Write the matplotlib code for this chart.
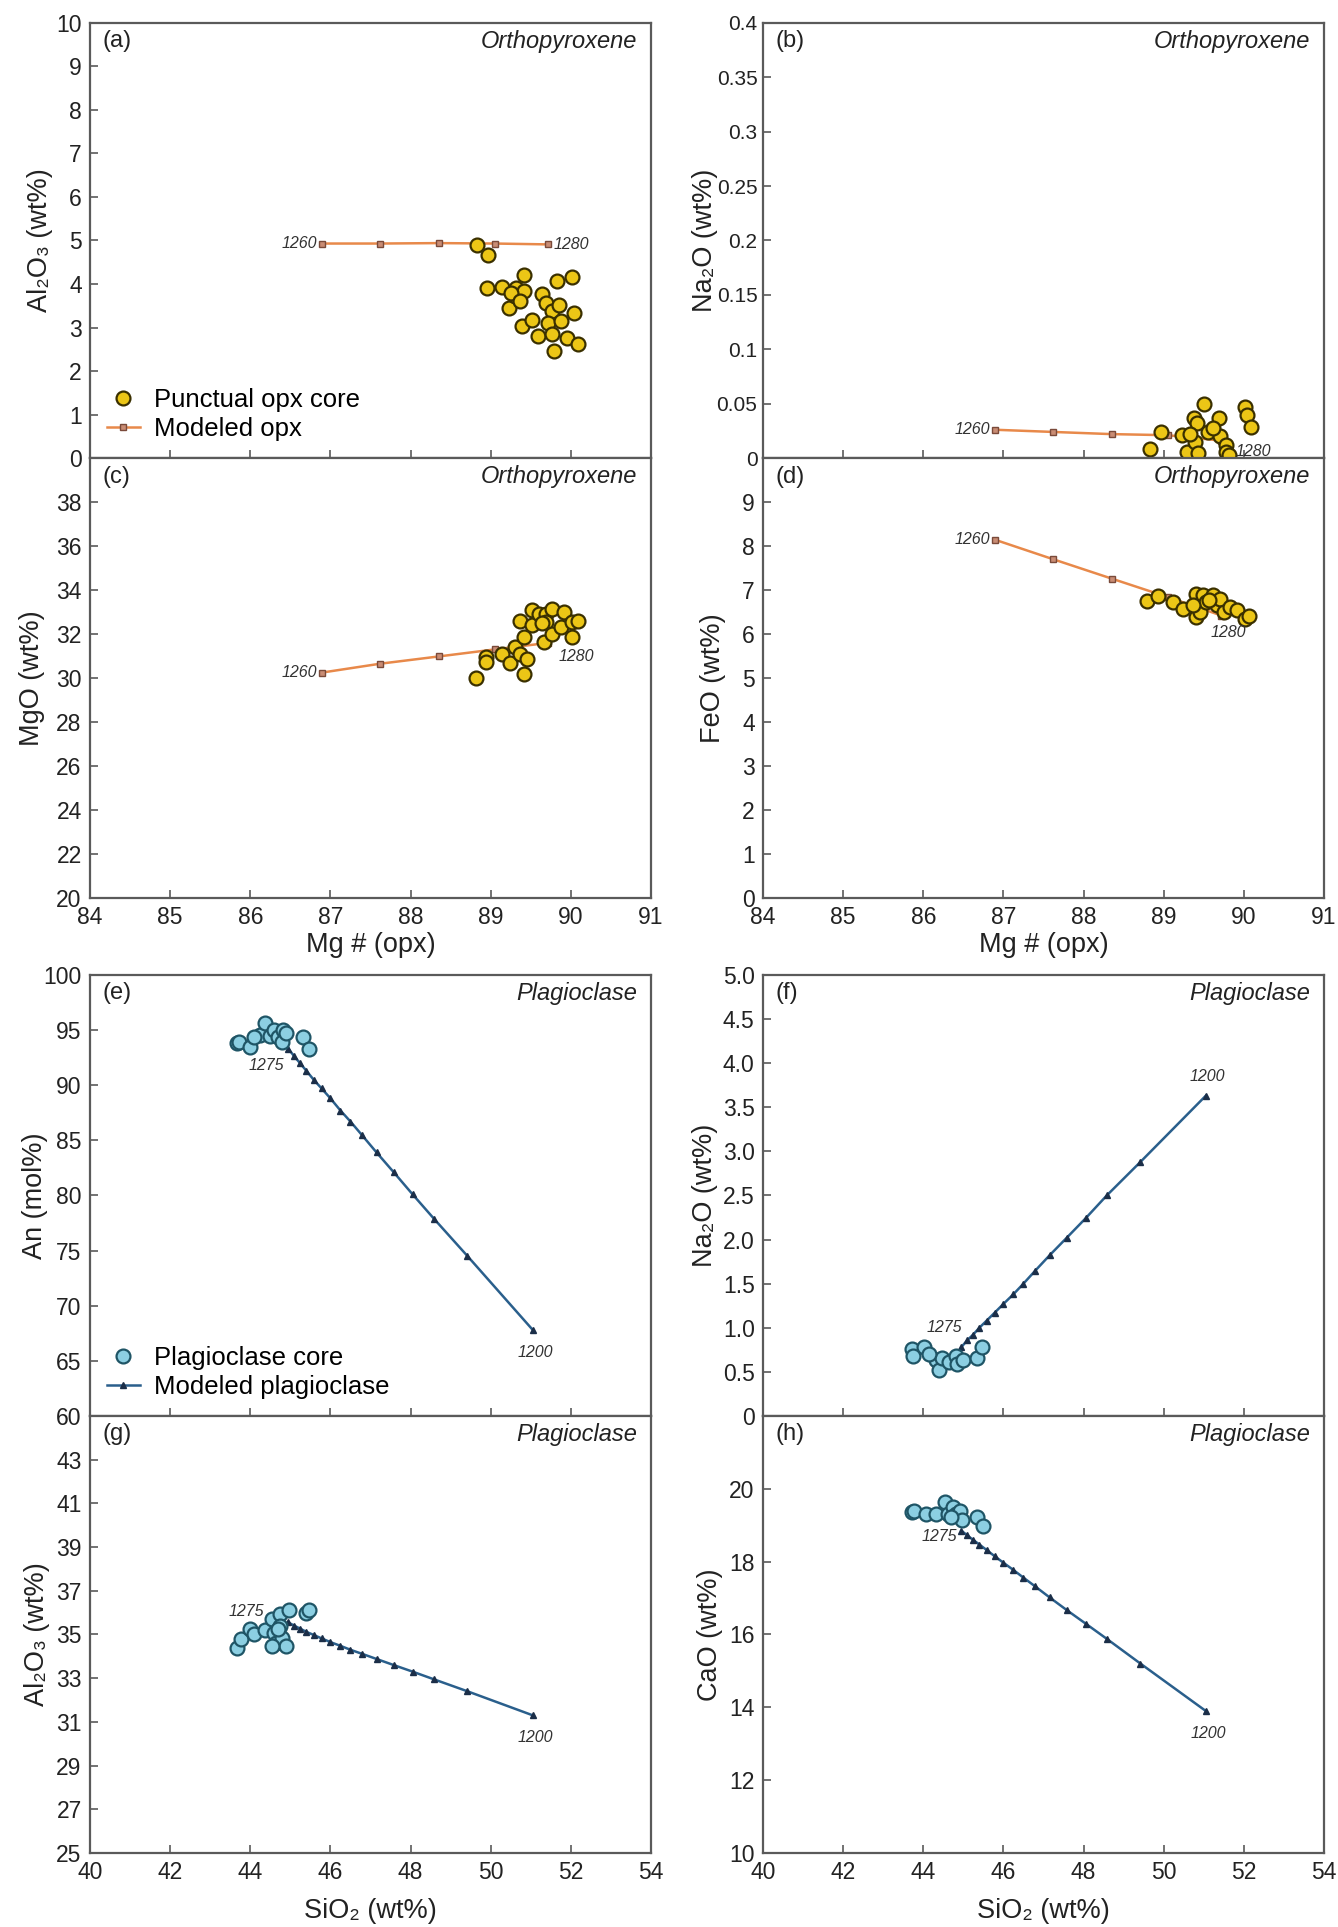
import matplotlib
matplotlib.use("Agg")
import matplotlib.pyplot as plt
from matplotlib.lines import Line2D

plt.rcParams['font.family'] = ['Liberation Sans', 'DejaVu Sans']

# ---- orthopyroxene: measured cores (one set of readings per panel) ----
opx_mg_a = [88.83, 88.96, 88.95, 89.14, 89.23, 89.30, 89.32, 89.42, 89.42, 89.39, 89.52, 89.59,
            89.64, 89.69, 89.77, 89.72, 89.77, 89.79, 89.83, 89.85, 89.88, 89.95, 90.01, 90.04,
            90.09, 89.25, 89.36]
opx_al = [4.90, 4.67, 3.91, 3.92, 3.45, 3.72, 3.91, 4.21, 3.83, 3.03, 3.18, 2.80,
          3.77, 3.56, 3.37, 3.10, 2.84, 2.45, 4.06, 3.52, 3.14, 2.76, 4.15, 3.33,
          2.61, 3.79, 3.60]

opx_mg_b = [88.83, 88.96, 89.23, 89.29, 89.38, 89.39, 89.42, 89.43, 89.50, 89.55, 89.69, 89.70,
            89.78, 89.78, 89.82, 90.01, 90.04, 90.09, 89.33, 89.62]
opx_na = [0.008, 0.024, 0.021, 0.006, 0.037, 0.015, 0.032, 0.005, 0.050, 0.024, 0.037, 0.020,
          0.012, 0.006, 0.003, 0.047, 0.040, 0.029, 0.022, 0.028]

opx_mg_c = [88.82, 88.94, 88.94, 89.14, 89.24, 89.30, 89.36, 89.41, 89.41, 89.45, 89.37, 89.51,
            89.51, 89.60, 89.67, 89.69, 89.69, 89.76, 89.77, 89.88, 89.92, 90.01, 90.01, 90.09,
            89.64]
opx_mgo = [30.00, 30.97, 30.71, 31.09, 30.67, 31.40, 31.09, 30.18, 31.85, 30.87, 32.61, 32.39,
           33.07, 32.92, 31.63, 32.92, 32.54, 33.15, 32.00, 32.31, 32.99, 32.54, 31.85, 32.61,
           32.49]

opx_mg_d = [88.79, 88.93, 89.12, 89.24, 89.40, 89.40, 89.45, 89.49, 89.53, 89.61, 89.67, 89.70,
            89.75, 89.83, 89.91, 90.01, 90.07, 89.36, 89.57]
opx_feo = [6.75, 6.86, 6.73, 6.58, 6.92, 6.39, 6.50, 6.88, 6.73, 6.89, 6.65, 6.80,
           6.50, 6.61, 6.54, 6.35, 6.42, 6.65, 6.77]

# ---- orthopyroxene: modeled path, 1260 -> 1280 °C ----
mod_opx_mg = [86.90, 87.62, 88.35, 89.05, 89.72]
mod_opx_al = [4.93, 4.93, 4.94, 4.93, 4.91]
mod_opx_na = [0.026, 0.024, 0.022, 0.021, 0.016]
mod_opx_mgo = [30.25, 30.65, 30.98, 31.30, 31.60]
mod_opx_feo = [8.14, 7.70, 7.26, 6.84, 6.42]

# ---- plagioclase: measured cores ----
pl_si_e = [43.67, 43.72, 43.99, 44.24, 44.37, 44.49, 44.58, 44.69, 44.82, 44.79, 44.90, 45.32,
           45.46, 44.10]
pl_an = [93.79, 93.90, 93.42, 94.55, 95.60, 94.48, 95.00, 94.39, 95.00, 93.94, 94.70, 94.39,
         93.24, 94.40]

pl_si_f = [43.72, 43.74, 44.02, 44.31, 44.38, 44.47, 44.63, 44.81, 44.84, 45.00, 45.33, 45.46,
           44.15]
pl_na = [0.76, 0.68, 0.78, 0.64, 0.52, 0.66, 0.61, 0.68, 0.59, 0.64, 0.66, 0.78, 0.70]

pl_si_g = [43.68, 43.78, 44.00, 44.10, 44.37, 44.53, 44.58, 44.64, 44.74, 44.74, 44.80, 44.90,
           44.96, 45.38, 45.47, 44.53, 44.69]
pl_al = [34.39, 34.80, 35.23, 35.00, 35.20, 35.69, 35.08, 34.62, 35.92, 35.38, 34.85, 34.46,
         36.12, 36.00, 36.12, 34.46, 35.23]

pl_si_h = [43.73, 43.78, 44.08, 44.32, 44.53, 44.61, 44.75, 44.82, 44.91, 44.96, 45.34, 45.48,
           44.69]
pl_cao = [19.36, 19.40, 19.31, 19.31, 19.63, 19.31, 19.49, 19.31, 19.40, 19.13, 19.22, 18.99,
          19.22]

# ---- plagioclase: modeled path, 1275 -> 1200 °C ----
mod_pl_si = [44.95, 45.10, 45.24, 45.40, 45.58, 45.78, 46.00, 46.25, 46.50, 46.78, 47.15, 47.58,
             48.05, 48.58, 49.42, 51.05]
mod_pl_an = [93.3, 92.6, 92.0, 91.3, 90.5, 89.7, 88.8, 87.7, 86.7, 85.5, 83.9, 82.1,
             80.1, 77.9, 74.5, 67.8]
mod_pl_na = [0.78, 0.86, 0.92, 1.00, 1.08, 1.17, 1.27, 1.38, 1.50, 1.64, 1.82, 2.02,
             2.24, 2.50, 2.88, 3.63]
mod_pl_al = [35.55, 35.40, 35.27, 35.12, 34.98, 34.82, 34.65, 34.48, 34.30, 34.12, 33.88, 33.60,
             33.30, 32.95, 32.40, 31.30]
mod_pl_cao = [18.85, 18.72, 18.60, 18.47, 18.32, 18.15, 17.97, 17.77, 17.56, 17.33, 17.02, 16.67,
              16.30, 15.88, 15.20, 13.90]

opx_temps = ['1260', '1280']
pl_temps = ['1275', '1200']

# styles
OPX_FACE, OPX_EDGE = '#ecc616', '#3a3000'
OPX_LINE, OPX_SQ_FACE, OPX_SQ_EDGE = '#e8894a', '#c98c74', '#7a4a3a'
PL_FACE, PL_EDGE = '#8ccfe2', '#1f5566'
PL_LINE, PL_TRI = '#2a5f8c', '#1b2e48'
FRAME = '#5a5a5a'
TXT = '#222222'

fig = plt.figure(figsize=(13.38, 19.27), dpi=100)

lx, rx, w = 90 / 1338, 763 / 1338, 561 / 1338
rows = {'top': (0.7623, 0.2258), 'mid': (0.5340, 0.2283),
        'low': (0.2652, 0.2289), 'bot': (0.0384, 0.2268)}


def make_ax(x0, row):
    b, h = rows[row]
    ax = fig.add_axes([x0, b, w, h])
    for s in ax.spines.values():
        s.set_color(FRAME)
        s.set_linewidth(1.6)
    ax.tick_params(direction='in', length=6, width=1.2, color=FRAME,
                   labelsize=16.5, labelcolor=TXT, pad=6, top=False, right=False)
    return ax


def corner_text(ax, tag, mineral):
    ax.text(0.022, 0.958, tag, transform=ax.transAxes, fontsize=17,
            color=TXT, ha='left', va='center')
    ax.text(0.976, 0.958, mineral, transform=ax.transAxes, fontsize=17,
            color=TXT, ha='right', va='center', style='italic')


def ylab(ax, text, xpos):
    ax.set_ylabel(text, fontsize=19.5, color=TXT, va='center')
    ax.yaxis.set_label_coords(xpos, 0.5)


def xlab(ax, text, ypos):
    ax.set_xlabel(text, fontsize=19.5, color=TXT, va='center')
    ax.xaxis.set_label_coords(0.5, ypos)


def opx_model(ax, y):
    ax.plot(mod_opx_mg, y, '-', color=OPX_LINE, lw=1.8, zorder=2,
            marker='s', ms=4.5, mfc=OPX_SQ_FACE, mec=OPX_SQ_EDGE, mew=1.0)


def opx_points(ax, x, y):
    ax.scatter(x, y, s=100, c=OPX_FACE, edgecolors=OPX_EDGE, linewidths=1.6, zorder=3)


def pl_model(ax, y):
    ax.plot(mod_pl_si, y, '-', color=PL_LINE, lw=1.8, zorder=2,
            marker='^', ms=5, mfc=PL_TRI, mec=PL_TRI)


def pl_points(ax, x, y):
    ax.scatter(x, y, s=100, c=PL_FACE, edgecolors=PL_EDGE, linewidths=1.6, zorder=3)


def t_label(ax, x, y, text, dx, dy, ha='center', va='center'):
    ax.annotate(text, (x, y), xytext=(dx, dy), textcoords='offset points',
                fontsize=11.5, style='italic', color='#333333', ha=ha, va=va, zorder=4)


def add_legend(ax, handles, names):
    ax.legend(handles, names, loc='lower left', bbox_to_anchor=(0.0, 0.0),
              frameon=False, fontsize=18.5, handlelength=1.3, handletextpad=0.55,
              labelspacing=0.2, borderaxespad=0.25)


mg_ticks = list(range(84, 92))
si_ticks = list(range(40, 55, 2))

# (a) Al2O3 vs Mg#
ax = make_ax(lx, 'top')
opx_model(ax, mod_opx_al)
opx_points(ax, opx_mg_a, opx_al)
ax.set_xlim(84, 91); ax.set_ylim(0, 10)
ax.set_xticks(mg_ticks); ax.set_xticklabels([])
ax.set_yticks(range(0, 11))
t_label(ax, mod_opx_mg[0], mod_opx_al[0], opx_temps[0], -4, 0, ha='right')
t_label(ax, mod_opx_mg[-1], mod_opx_al[-1], opx_temps[1], 4, 0, ha='left')
corner_text(ax, '(a)', 'Orthopyroxene')
ylab(ax, 'Al₂O₃ (wt%)', -0.09)
add_legend(ax,
           [Line2D([], [], ls='none', marker='o', ms=10, mfc=OPX_FACE, mec=OPX_EDGE, mew=1.6),
            Line2D([], [], color=OPX_LINE, lw=1.8, marker='s', ms=4.5,
                   mfc=OPX_SQ_FACE, mec=OPX_SQ_EDGE)],
           ['Punctual opx core', 'Modeled opx'])

# (b) Na2O vs Mg#
ax = make_ax(rx, 'top')
opx_model(ax, mod_opx_na)
opx_points(ax, opx_mg_b, opx_na)
ax.set_xlim(84, 91); ax.set_ylim(0, 0.4)
ax.set_xticks(mg_ticks); ax.set_xticklabels([])
nay = [0, 0.05, 0.1, 0.15, 0.2, 0.25, 0.3, 0.35, 0.4]
ax.set_yticks(nay)
ax.set_yticklabels(['0', '0.05', '0.1', '0.15', '0.2', '0.25', '0.3', '0.35', '0.4'])
ax.tick_params(axis='y', labelsize=15, pad=4)
t_label(ax, mod_opx_mg[0], mod_opx_na[0], opx_temps[0], -4, 0, ha='right')
t_label(ax, mod_opx_mg[-1], mod_opx_na[-1], opx_temps[1], 10, -8, ha='left')
corner_text(ax, '(b)', 'Orthopyroxene')
ylab(ax, 'Na₂O (wt%)', -0.103)

# (c) MgO vs Mg#
ax = make_ax(lx, 'mid')
opx_model(ax, mod_opx_mgo)
opx_points(ax, opx_mg_c, opx_mgo)
ax.set_xlim(84, 91); ax.set_ylim(20, 40)
ax.set_xticks(mg_ticks)
ax.set_yticks(range(20, 39, 2))
t_label(ax, mod_opx_mg[0], mod_opx_mgo[0], opx_temps[0], -4, 0, ha='right')
t_label(ax, mod_opx_mg[-1], mod_opx_mgo[-1], opx_temps[1], 7, -10, ha='left')
corner_text(ax, '(c)', 'Orthopyroxene')
ylab(ax, 'MgO (wt%)', -0.104)
xlab(ax, 'Mg # (opx)', -0.108)

# (d) FeO vs Mg#
ax = make_ax(rx, 'mid')
opx_model(ax, mod_opx_feo)
opx_points(ax, opx_mg_d, opx_feo)
ax.set_xlim(84, 91); ax.set_ylim(0, 10)
ax.set_xticks(mg_ticks)
ax.set_yticks(range(0, 10))
t_label(ax, mod_opx_mg[0], mod_opx_feo[0], opx_temps[0], -4, 0, ha='right')
t_label(ax, mod_opx_mg[-1], mod_opx_feo[-1], opx_temps[1], -8, -12, ha='left')
corner_text(ax, '(d)', 'Orthopyroxene')
ylab(ax, 'FeO (wt%)', -0.09)
xlab(ax, 'Mg # (opx)', -0.108)

# (e) An vs SiO2
ax = make_ax(lx, 'low')
pl_model(ax, mod_pl_an)
pl_points(ax, pl_si_e, pl_an)
ax.set_xlim(40, 54); ax.set_ylim(60, 100)
ax.set_xticks(si_ticks); ax.set_xticklabels([])
ax.set_yticks(range(60, 101, 5))
t_label(ax, mod_pl_si[0], mod_pl_an[0], pl_temps[0], -16, -12)
t_label(ax, mod_pl_si[-1], mod_pl_an[-1], pl_temps[1], 2, -16)
corner_text(ax, '(e)', 'Plagioclase')
ylab(ax, 'An (mol%)', -0.098)
add_legend(ax,
           [Line2D([], [], ls='none', marker='o', ms=10, mfc=PL_FACE, mec=PL_EDGE, mew=1.6),
            Line2D([], [], color=PL_LINE, lw=1.8, marker='^', ms=5, mfc=PL_TRI, mec=PL_TRI)],
           ['Plagioclase core', 'Modeled plagioclase'])

# (f) Na2O vs SiO2
ax = make_ax(rx, 'low')
pl_model(ax, mod_pl_na)
pl_points(ax, pl_si_f, pl_na)
ax.set_xlim(40, 54); ax.set_ylim(0, 5)
ax.set_xticks(si_ticks); ax.set_xticklabels([])
fy = [0, 0.5, 1.0, 1.5, 2.0, 2.5, 3.0, 3.5, 4.0, 4.5, 5.0]
ax.set_yticks(fy)
ax.set_yticklabels(['0'] + [f'{v:.1f}' for v in fy[1:]])
t_label(ax, mod_pl_si[0], mod_pl_na[0], pl_temps[0], -12, 14)
t_label(ax, mod_pl_si[-1], mod_pl_na[-1], pl_temps[1], 1, 14)
corner_text(ax, '(f)', 'Plagioclase')
ylab(ax, 'Na₂O (wt%)', -0.103)

# (g) Al2O3 vs SiO2
ax = make_ax(lx, 'bot')
pl_model(ax, mod_pl_al)
pl_points(ax, pl_si_g, pl_al)
ax.set_xlim(40, 54); ax.set_ylim(25, 45)
ax.set_xticks(si_ticks)
ax.set_yticks(range(25, 44, 2))
t_label(ax, mod_pl_si[0], mod_pl_al[0], pl_temps[0], -30, 8)
t_label(ax, mod_pl_si[-1], mod_pl_al[-1], pl_temps[1], 2, -16)
corner_text(ax, '(g)', 'Plagioclase')
ylab(ax, 'Al₂O₃ (wt%)', -0.095)
xlab(ax, 'SiO₂ (wt%)', -0.132)

# (h) CaO vs SiO2
ax = make_ax(rx, 'bot')
pl_model(ax, mod_pl_cao)
pl_points(ax, pl_si_h, pl_cao)
ax.set_xlim(40, 54); ax.set_ylim(10, 22)
ax.set_xticks(si_ticks)
ax.set_yticks(range(10, 21, 2))
t_label(ax, mod_pl_si[0], mod_pl_cao[0], pl_temps[0], -16, -4)
t_label(ax, mod_pl_si[-1], mod_pl_cao[-1], pl_temps[1], 2, -16)
corner_text(ax, '(h)', 'Plagioclase')
ylab(ax, 'CaO (wt%)', -0.095)
xlab(ax, 'SiO₂ (wt%)', -0.132)

fig.savefig('out.png', dpi=100, facecolor='white')
